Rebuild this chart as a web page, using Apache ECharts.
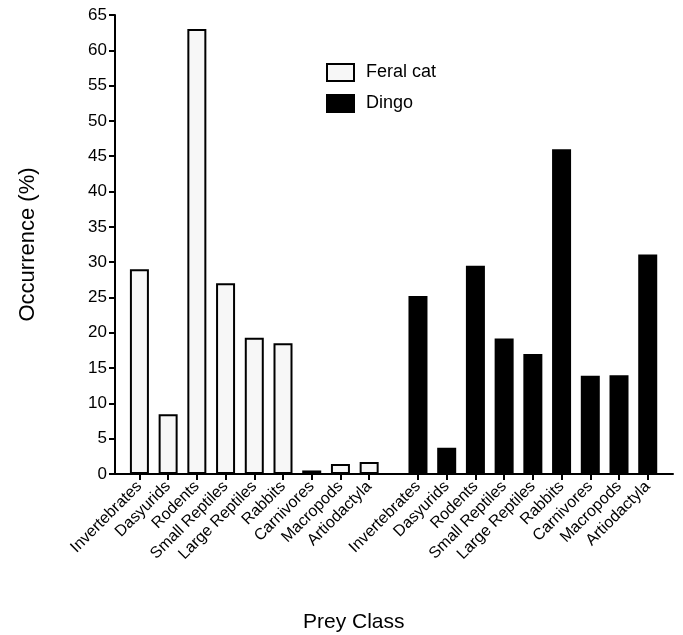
<!DOCTYPE html>
<html>
<head>
<meta charset="utf-8">
<script src="https://cdn.jsdelivr.net/npm/echarts@6/dist/echarts.min.js"></script>
<style>html,body{margin:0;padding:0;background:#fff}#c{width:683px;height:635px}</style>
</head>
<body>
<div id="c"></div>
<script>
const categories = ['Invertebrates','Dasyurids','Rodents','Small Reptiles','Large Reptiles','Rabbits','Carnivores','Macropods','Artiodactyla'];
const feralCat = [29.0, 8.45, 63.0, 27.0, 19.3, 18.5, 0.5, 1.4, 1.7];
const dingo = [25.2, 3.7, 29.5, 19.2, 17.0, 46.0, 13.9, 14.0, 31.1];
const yTicks = [0,5,10,15,20,25,30,35,40,45,50,55,60,65];

const FONT = 'Liberation Sans, Arial, Helvetica, sans-serif';
const groupOffset = categories.length + 0.7; // gap between the two groups
const feralX = categories.map((c, i) => i + 1);
const dingoX = categories.map((c, i) => i + 1 + groupOffset);
const allX = feralX.concat(dingoX);
const labelOf = {};
feralX.forEach((x, i) => labelOf[x.toFixed(2)] = categories[i]);
dingoX.forEach((x, i) => labelOf[x.toFixed(2)] = categories[i]);

const chart = echarts.init(document.getElementById('c'), null, {renderer: 'canvas'});
chart.setOption({
  animation: false,
  backgroundColor: '#fff',
  textStyle: {fontFamily: FONT},
  grid: {left: 115, right: 10, top: 15, bottom: 161, containLabel: false},
  legend: {
    orient: 'vertical', left: 321, top: 58,
    icon: 'rect',
    itemWidth: 27, itemHeight: 17, itemGap: 12,
    textStyle: {fontSize: 18, color: '#000', fontFamily: FONT, padding: [0, 0, 0, 7]},
    data: ['Feral cat', 'Dingo']
  },
  xAxis: {
    type: 'value', min: 0.15, max: 19.58,
    splitLine: {show: false},
    axisLine: {show: true, onZero: false, lineStyle: {color: '#000', width: 2}},
    axisTick: {show: true, length: 6, lineStyle: {color: '#000', width: 2}, customValues: allX},
    axisLabel: {
      rotate: 45, fontSize: 16, color: '#000', fontFamily: FONT, margin: 10,
      customValues: allX,
      formatter: v => labelOf[Number(v).toFixed(2)] || ''
    }
  },
  yAxis: {
    type: 'value', min: 0, max: 65, interval: 5,
    name: 'Occurrence (%)', nameLocation: 'middle', nameGap: 76, nameRotate: 90,
    nameTextStyle: {fontSize: 22, color: '#000', fontFamily: FONT},
    splitLine: {show: false},
    axisLine: {show: true, lineStyle: {color: '#000', width: 2}},
    axisTick: {show: true, length: 6, lineStyle: {color: '#000', width: 2}},
    axisLabel: {fontSize: 17, color: '#000', fontFamily: FONT, margin: 8,
      formatter: v => yTicks.includes(v) ? String(v) : ''}
  },
  graphic: [{
    type: 'text', left: 303, top: 612,
    style: {text: 'Prey Class', font: '21px ' + FONT, fill: '#000'}
  }],
  series: [
    {
      name: 'Feral cat', type: 'bar', barWidth: 19, barGap: '-100%',
      itemStyle: {color: '#f7f7f7', borderColor: '#000', borderWidth: 2},
      data: feralX.map((x, i) => [x, feralCat[i]])
    },
    {
      name: 'Dingo', type: 'bar', barWidth: 19, barGap: '-100%',
      itemStyle: {color: '#000', borderColor: '#000', borderWidth: 2},
      data: dingoX.map((x, i) => [x, dingo[i]])
    }
  ]
});
</script>
</body>
</html>
